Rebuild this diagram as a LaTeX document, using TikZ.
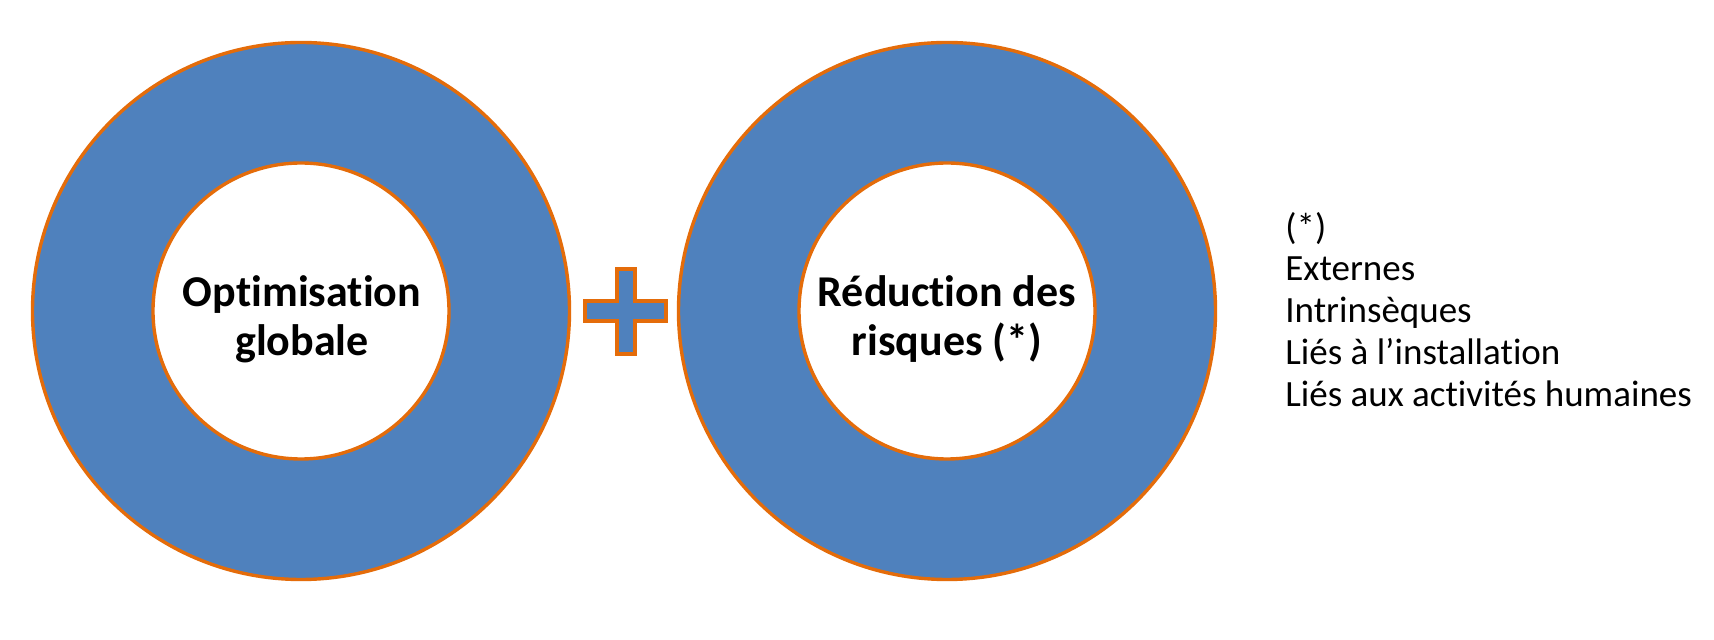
\documentclass[tikz,border=0pt]{standalone}
\usepackage{fontspec}
\setmainfont{Carlito}[Ligatures=NoCommon]
\definecolor{ringblue}{HTML}{4F81BD}
\definecolor{ringorange}{HTML}{E46C0A}
\begin{document}
\begin{tikzpicture}[x=0.5pt,y=-0.5pt,
  ring/.style={circle, fill=ringblue, draw=ringorange, line width=1.7pt, minimum size=268.5pt, inner sep=0pt},
  hole/.style={circle, fill=white, draw=ringorange, line width=1.7pt, minimum size=148pt, inner sep=0pt},
  ringtext/.style={inner sep=0pt, align=center, font=\fontsize{22}{24.5}\selectfont\bfseries},
  plusshape/.style={fill=ringblue, draw=ringorange, line width=1.7pt, line join=miter},
  note/.style={anchor=base west, inner sep=0pt, font=\fontsize{18.5}{21}\selectfont}]
\useasboundingbox (0,0) rectangle (1714,640);
\fill[white] (0,0) rectangle (1714,640);
% left ring
\node[ring] (ringA) at (301,311) {};
\node[hole] (holeA) at (ringA.center) {};
\node[ringtext] (txtA) at (302,319) {Optimisation\\globale};
% right ring
\node[ring] (ringB) at (947,311) {};
\node[hole] (holeB) at (ringB.center) {};
\node[ringtext] (txtB) at (947,319) {Réduction des\\risques (*)};
% plus sign
\draw[plusshape] (585,301) -- (617,301) -- (617,269) -- (635,269) -- (635,301) -- (666,301)
  -- (666,321) -- (635,321) -- (635,354) -- (617,354) -- (617,321) -- (585,321) -- cycle;
% notes
\node[note] (n0) at (1285,240) {(*)};
\node[note] (n1) at (1285,281) {Externes};
\node[note] (n2) at (1285,323) {Intrinsèques};
\node[note] (n3) at (1285,365) {Liés à l’installation};
\node[note] (n4) at (1285,407) {Liés aux activités humaines};
\end{tikzpicture}
\end{document}
